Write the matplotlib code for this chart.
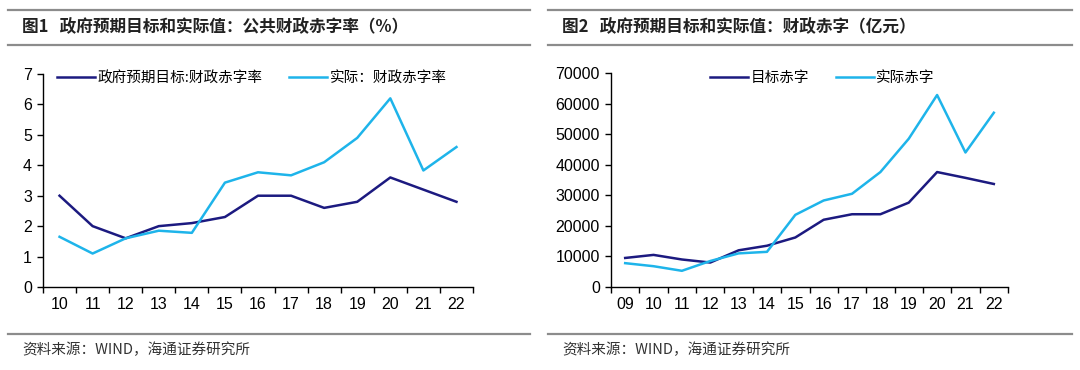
import numpy as np
import matplotlib
matplotlib.use('Agg')
import matplotlib.pyplot as plt
from matplotlib.lines import Line2D

plt.rcParams['font.family'] = ['Noto Sans CJK SC', 'DejaVu Sans']

# figure 1: deficit ratio (%)
years1 = ['10', '11', '12', '13', '14', '15', '16', '17', '18', '19', '20', '21', '22']
target_ratio = [3.0, 2.0, 1.6, 2.0, 2.1, 2.3, 3.0, 3.0, 2.6, 2.8, 3.6, 3.2, 2.8]
actual_ratio = [1.65, 1.1, 1.6, 1.85, 1.78, 3.43, 3.77, 3.67, 4.1, 4.9, 6.2, 3.83, 4.6]

# figure 2: deficit (100 million yuan)
years2 = ['09', '10', '11', '12', '13', '14', '15', '16', '17', '18', '19', '20', '21', '22']
target_deficit = [9500, 10500, 9000, 8000, 12000, 13500, 16200, 22000, 23800, 23800, 27600, 37600, 35700, 33700]
actual_deficit = [7800, 6800, 5300, 8500, 11000, 11500, 23600, 28300, 30500, 37600, 48500, 62800, 44000, 57000]

NAVY = '#1c1a80'
SKY = '#1eb4ea'
W, H = 1080, 370

fig = plt.figure(figsize=(W / 100, H / 100), dpi=100)


def style_axes(ax, cats, ymax, ystep):
    n = len(cats)
    ax.set_xlim(-0.5, n - 0.5)
    ax.set_ylim(0, ymax)
    ax.set_yticks(np.arange(0, ymax + 1e-9, ystep))
    ax.set_xticks(np.arange(-0.5, n, 1.0))
    ax.set_xticklabels([])
    ax.set_xticks(np.arange(n), minor=True)
    ax.set_xticklabels(cats, minor=True)
    ax.tick_params(axis='x', which='major', direction='out', length=4, width=1)
    ax.tick_params(axis='x', which='minor', length=0, pad=7)
    ax.tick_params(axis='y', direction='out', length=4, width=1, pad=4)
    for lab in ax.get_xticklabels(minor=True) + ax.get_yticklabels():
        lab.set_family(['Liberation Sans'])
        lab.set_fontsize(11.5)
    for s in ['top', 'right']:
        ax.spines[s].set_visible(False)
    for s in ['left', 'bottom']:
        ax.spines[s].set_linewidth(1)


def add_legend(ax, x_px):
    ax.legend(loc='upper left', bbox_to_anchor=(x_px / W, 1 - 71 / H),
              bbox_transform=fig.transFigure, ncol=2, frameon=False,
              fontsize=10.5, handlelength=2.6, columnspacing=1.8,
              handletextpad=0.2, borderpad=0, borderaxespad=0)


ax1 = fig.add_axes([43 / W, 1 - 287 / H, 430 / W, 213 / H])
x1 = np.arange(len(years1))
ax1.plot(x1, target_ratio, color=NAVY, lw=1.8, label='政府预期目标:财政赤字率')
ax1.plot(x1, actual_ratio, color=SKY, lw=1.8, label='实际：财政赤字率')
style_axes(ax1, years1, 7, 1)
add_legend(ax1, 57)

ax2 = fig.add_axes([611 / W, 1 - 287 / H, 397 / W, 214 / H])
x2 = np.arange(len(years2))
ax2.plot(x2, target_deficit, color=NAVY, lw=1.8, label='目标赤字')
ax2.plot(x2, actual_deficit, color=SKY, lw=1.8, label='实际赤字')
style_axes(ax2, years2, 70000, 10000)
add_legend(ax2, 710)

# header / footer rules
for x0, x1_ in [(8, 530), (548, 1072)]:
    for yy in [10, 45, 334]:
        fig.add_artist(Line2D([x0 / W, x1_ / W], [1 - yy / H, 1 - yy / H],
                              color='#8c8c8c', lw=1.6))

fig.text(22 / W, 1 - 27 / H, '图1   政府预期目标和实际值：公共财政赤字率（%）',
         fontsize=12, fontweight='bold', va='center', color='#222222')
fig.text(562 / W, 1 - 27 / H, '图2   政府预期目标和实际值：财政赤字（亿元）',
         fontsize=12, fontweight='bold', va='center', color='#222222')

fig.text(22 / W, 1 - 350 / H, '资料来源：WIND，海通证券研究所', fontsize=10.5, va='center', color='#333333')
fig.text(562 / W, 1 - 350 / H, '资料来源：WIND，海通证券研究所', fontsize=10.5, va='center', color='#333333')

fig.savefig('out.png', dpi=100)
